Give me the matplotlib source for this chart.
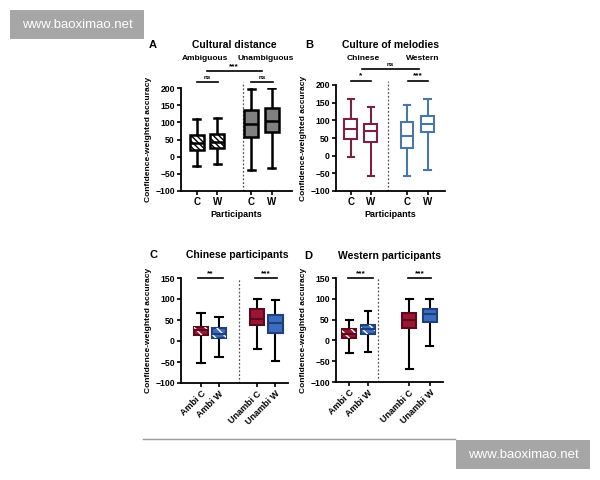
import matplotlib
matplotlib.use("Agg")
import matplotlib.pyplot as plt
from matplotlib.patches import PathPatch, Rectangle
from matplotlib.lines import Line2D

plt.rcParams['font.family'] = ['Liberation Sans', 'DejaVu Sans']
plt.rcParams['font.weight'] = 'bold'

# ---- data ----
a_labels = ['C', 'W', 'C', 'W']
a_med = [40, 44, 96, 103]
a_q1 = [19, 26, 56, 71]
a_q3 = [64, 66, 137, 141]
a_lo = [-28, -22, -40, -33]
a_hi = [110, 112, 198, 200]

b_labels = ['C', 'W', 'C', 'W']
b_med = [75, 71, 57, 90]
b_q1 = [47, 38, 21, 66]
b_q3 = [103, 89, 94, 111]
b_lo = [-3, -57, -58, -40]
b_hi = [160, 137, 142, 159]

cd_labels = ['Ambi C', 'Ambi W', 'Unambi C', 'Unambi W']
c_med = [26, 17, 53, 43]
c_q1 = [15, 6, 37, 18]
c_q3 = [34, 30, 76, 62]
c_lo = [-52, -38, -20, -47]
c_hi = [67, 57, 100, 98]

d_med = [15, 27, 50, 63]
d_q1 = [5, 16, 30, 44]
d_q3 = [27, 36, 66, 76]
d_lo = [-31, -29, -68, -13]
d_hi = [49, 70, 100, 100]

RED = '#9c1535'
BLUE = '#3b6cc0'
MAROON = '#7b2141'
STEEL = '#4a78a6'

W, H = 600, 480


def fx(px):
    return px / W


def fy(py):
    return 1 - py / H


def stats(med, q1, q3, lo, hi):
    return [dict(med=m, q1=a, q3=b, whislo=l, whishi=h)
            for m, a, b, l, h in zip(med, q1, q3, lo, hi)]


def style_axes(ax, yticks):
    for s in ['top', 'right']:
        ax.spines[s].set_visible(False)
    for s in ['left', 'bottom']:
        ax.spines[s].set_linewidth(1.3)
    ax.set_yticks(yticks)
    ax.tick_params(axis='both', width=1.2, length=3, labelsize=6.2, pad=1.5)
    for t in ax.get_yticklabels() + ax.get_xticklabels():
        t.set_fontweight('bold')


def draw_box(ax, st, pos, width, faces, edges, whisk, lw=1.5):
    bp = ax.bxp(st, positions=pos, widths=width, patch_artist=True,
                showfliers=False, manage_ticks=False)
    for i, b in enumerate(bp['boxes']):
        b.set_facecolor(faces[i])
        b.set_edgecolor(edges[i])
        b.set_linewidth(lw)
        b.set_zorder(3)
    for i, m in enumerate(bp['medians']):
        m.set_color(edges[i])
        m.set_linewidth(lw)
        m.set_zorder(4)
    for i, w in enumerate(bp['whiskers']):
        w.set_color(whisk[i // 2])
        w.set_linewidth(lw)
    for i, c in enumerate(bp['caps']):
        c.set_color(whisk[i // 2])
        c.set_linewidth(lw)
    return bp


def hatch_over(ax, box, color, pattern):
    p = PathPatch(box.get_path(), facecolor='none', edgecolor=color,
                  hatch=pattern, linewidth=0, zorder=3.5)
    ax.add_patch(p)


def sig(ax, x0, x1, y, text, fs=6, dy=4):
    ax.plot([x0, x1], [y, y], color='black', lw=1.2, clip_on=False)
    ax.text((x0 + x1) / 2, y + dy, text, ha='center', va='bottom',
            fontsize=fs, fontweight='bold', clip_on=False)


fig = plt.figure(figsize=(6, 4.8), dpi=100)

# ---------------- Panel A ----------------
axA = fig.add_axes([fx(181), fy(191), fx(292 - 181), (191 - 88) / H])
posA = [1, 2, 3.63, 4.63]
bpA = draw_box(axA, stats(a_med, a_q1, a_q3, a_lo, a_hi), posA, 0.68,
               ['white', 'white', '#808080', '#808080'],
               ['black'] * 4, ['black'] * 4, lw=1.8)
for b in bpA['boxes'][:2]:
    hatch_over(axA, b, 'black', '\\\\\\\\\\\\')
axA.set_xlim(0.24, 5.6)
axA.set_ylim(-100, 200)
axA.set_xticks(posA)
axA.set_xticklabels(a_labels)
style_axes(axA, range(-100, 201, 50))
axA.tick_params(axis='x', labelsize=7)
axA.axvline(3.23, ymin=0, ymax=1.055, color='#555555', lw=0.9,
            ls=(0, (1.5, 1.5)), clip_on=False)
axA.set_xlabel('Participants', fontsize=6.5, fontweight='bold', labelpad=2)
axA.set_ylabel('Confidence-weighted accuracy', fontsize=6, fontweight='bold',
               labelpad=2)
sig(axA, 1, 2.03, 217, 'ns', fs=4.5, dy=5)
sig(axA, 3.63, 4.66, 217, 'ns', fs=4.5, dy=5)
sig(axA, 1.5, 4.13, 250, '***', fs=6, dy=3)
axA.text(1.4, 287, 'Ambiguous', ha='center', va='center', fontsize=6,
         fontweight='bold', clip_on=False)
axA.text(4.35, 287, 'Unambiguous', ha='center', va='center', fontsize=6,
         fontweight='bold', clip_on=False)
fig.text(fx(234), fy(45), 'Cultural distance', ha='center', va='center',
         fontsize=7.5, fontweight='bold')
fig.text(fx(153), fy(45), 'A', ha='center', va='center', fontsize=8,
         fontweight='bold')

# ---------------- Panel B ----------------
axB = fig.add_axes([fx(336), fy(191), fx(445 - 336), (191 - 85) / H])
posB = [1, 2, 3.8, 4.83]
draw_box(axB, stats(b_med, b_q1, b_q3, b_lo, b_hi), posB, 0.63,
         ['white'] * 4, [MAROON, MAROON, STEEL, STEEL],
         [MAROON, MAROON, STEEL, STEEL], lw=1.5)
axB.set_xlim(0.265, 5.7)
axB.set_ylim(-100, 200)
axB.set_xticks(posB)
axB.set_xticklabels(b_labels)
style_axes(axB, range(-100, 201, 50))
axB.tick_params(axis='x', labelsize=7)
axB.axvline(2.85, ymin=0, ymax=1.04, color='#555555', lw=0.9,
            ls=(0, (1.5, 1.5)), clip_on=False)
axB.set_xlabel('Participants', fontsize=6.5, fontweight='bold', labelpad=2)
axB.set_ylabel('Confidence-weighted accuracy', fontsize=6, fontweight='bold',
               labelpad=2)
sig(axB, 1, 2.03, 212, '*', fs=6, dy=3)
sig(axB, 3.85, 4.85, 212, '***', fs=6, dy=3)
sig(axB, 1.55, 4.38, 245, 'ns', fs=4.5, dy=6)
axB.text(1.6, 276, 'Chinese', ha='center', va='center', fontsize=6,
         fontweight='bold', clip_on=False)
axB.text(4.6, 276, 'Western', ha='center', va='center', fontsize=6,
         fontweight='bold', clip_on=False)
fig.text(fx(390), fy(45), 'Culture of melodies', ha='center', va='center',
         fontsize=7.5, fontweight='bold')
fig.text(fx(309), fy(45), 'B', ha='center', va='center', fontsize=8,
         fontweight='bold')

# ---------------- Panel C ----------------
axC = fig.add_axes([fx(181), fy(383), fx(288 - 181), (383 - 278) / H])
posC = [1, 2, 4.1, 5.1]
bpC = draw_box(axC, stats(c_med, c_q1, c_q3, c_lo, c_hi), posC, 0.8,
               [RED, BLUE, RED, BLUE],
               ['#5a0a1c', '#1f3f7a', '#5a0a1c', '#1f3f7a'],
               ['black'] * 4, lw=1.5)
for b in bpC['boxes'][:2]:
    hatch_over(axC, b, 'white', '\\\\\\')
axC.set_xlim(-0.1, 5.8)
axC.set_ylim(-100, 150)
axC.set_xticks(posC)
axC.set_xticklabels(cd_labels, rotation=45, ha='right',
                    rotation_mode='anchor')
style_axes(axC, range(-100, 151, 50))
axC.tick_params(axis='x', labelsize=6.5)
axC.axvline(3.1, ymin=0, ymax=1.0, color='#555555', lw=0.9,
            ls=(0, (1.5, 1.5)), clip_on=False)
axC.set_ylabel('Confidence-weighted accuracy', fontsize=6, fontweight='bold',
               labelpad=2)
sig(axC, 0.85, 2.2, 150, '**', fs=6, dy=2)
sig(axC, 4.0, 5.2, 150, '***', fs=6, dy=2)
fig.text(fx(237), fy(255), 'Chinese participants', ha='center',
         va='center', fontsize=7.5, fontweight='bold')
fig.text(fx(153), fy(255), 'C', ha='center', va='center', fontsize=8,
         fontweight='bold')

# ---------------- Panel D ----------------
axD = fig.add_axes([fx(336), fy(382), fx(443 - 336), (382 - 278) / H])
posD = [1, 2, 4.2, 5.3]
bpD = draw_box(axD, stats(d_med, d_q1, d_q3, d_lo, d_hi), posD, 0.72,
               [RED, BLUE, RED, BLUE],
               ['#5a0a1c', '#1f3f7a', '#5a0a1c', '#1f3f7a'],
               ['black'] * 4, lw=1.5)
for b in bpD['boxes'][:2]:
    hatch_over(axD, b, 'white', '\\\\\\')
axD.set_xlim(0.3, 6.0)
axD.set_ylim(-100, 150)
axD.set_xticks(posD)
axD.set_xticklabels(cd_labels, rotation=45, ha='right',
                    rotation_mode='anchor')
style_axes(axD, range(-100, 151, 50))
axD.tick_params(axis='x', labelsize=6.5)
axD.axvline(2.55, ymin=0, ymax=1.0, color='#555555', lw=0.9,
            ls=(0, (1.5, 1.5)), clip_on=False)
axD.set_ylabel('Confidence-weighted accuracy', fontsize=6, fontweight='bold',
               labelpad=2)
sig(axD, 0.95, 2.25, 150, '***', fs=6, dy=2)
sig(axD, 4.15, 5.35, 150, '***', fs=6, dy=2)
fig.text(fx(390), fy(256), 'Western participants', ha='center',
         va='center', fontsize=7.5, fontweight='bold')
fig.text(fx(308), fy(256), 'D', ha='center', va='center', fontsize=8,
         fontweight='bold')

# ---- page decorations ----
fig.add_artist(Line2D([fx(143), fx(455)], [fy(439), fy(439)],
                      color='#999999', lw=1))
for x0, y0 in [(10, 10), (456, 440)]:
    fig.add_artist(Rectangle((fx(x0), fy(y0 + 29)), fx(134), 29 / H,
                             facecolor='#a6a6a6', edgecolor='none'))
    fig.text(fx(x0 + 67), fy(y0 + 15), 'www.baoximao.net', ha='center',
             va='center', color='white', fontsize=9.5, fontweight='normal')

fig.savefig('out.png', dpi=100)
